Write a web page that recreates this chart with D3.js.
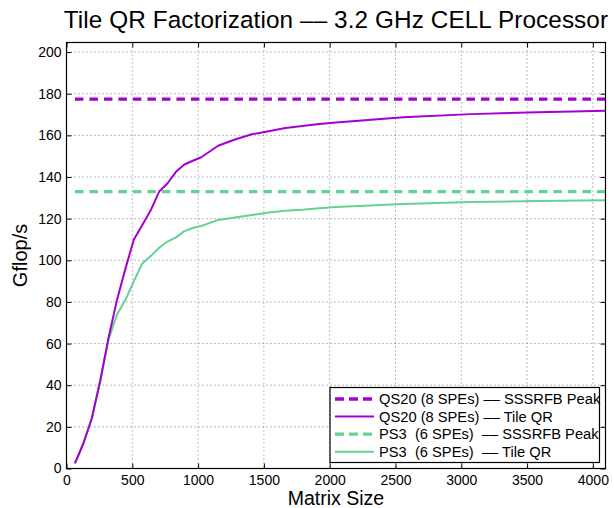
<!DOCTYPE html>
<html>
<head>
<meta charset="utf-8">
<script src="https://cdn.jsdelivr.net/npm/d3@7"></script>
<style>
  body { margin: 0; background: #fff; }
  svg { font-family: "Liberation Sans", Arial, sans-serif; }
</style>
</head>
<body>
<svg width="614" height="508"></svg>
<script>
(() => {
    // Matrix sizes (x) and measured Gflop/s
    const matrixSizes = [64, 128, 192, 256, 320, 384, 448, 512, 576, 640, 704, 768, 832, 896, 960, 1024,
                         1152, 1280, 1408, 1536, 1664, 1792, 1920, 2048, 2560, 3072, 3584, 4096];
    const qs20TileQR = [2.5, 12, 24, 42, 63, 81, 96, 110, 117, 124, 133, 137, 142.5, 146, 147.8, 149.5,
                        155, 158, 160.5, 162, 163.5, 164.5, 165.5, 166.2, 168.7, 170.2, 171.1, 171.8];
    const ps3TileQR = [2.5, 12, 24, 42, 62, 74, 81, 90, 98.5, 102, 106, 109, 111, 114, 115.5, 116.5,
                       119.4, 120.5, 121.7, 123, 123.8, 124.3, 125, 125.6, 127, 128, 128.5, 128.8];
    const qs20Peak = 177.4;
    const ps3Peak = 133;

    const xTicks = [0, 500, 1000, 1500, 2000, 2500, 3000, 3500, 4000];
    const yTicks = [0, 20, 40, 60, 80, 100, 120, 140, 160, 180, 200];

    const legendLabels = [
      "QS20 (8 SPEs) \u2013\u2013 SSSRFB Peak",
      "QS20 (8 SPEs) \u2013\u2013 Tile QR",
      "PS3  (6 SPEs)  \u2013\u2013 SSSRFB Peak",
      "PS3  (6 SPEs)  \u2013\u2013 Tile QR"
    ];

    const purple = "#a400cf";
    const green = "#62d390";

    const margin = {top: 42.5, right: 8.5, bottom: 39.5, left: 66.5};
    const svg = d3.select("svg");
    const width = +svg.attr("width") - margin.left - margin.right;
    const height = +svg.attr("height") - margin.top - margin.bottom;
    const g = svg.append("g").attr("transform", "translate(" + margin.left + "," + margin.top + ")");

    const x = d3.scaleLinear().domain([0, 4096]).range([0, width]);
    const y = d3.scaleLinear().domain([0, 204.6]).range([height, 0]);

    // grid
    g.append("g").selectAll("line")
      .data(xTicks.slice(1))
      .enter().append("line")
        .attr("x1", d => x(d)).attr("x2", d => x(d))
        .attr("y1", 0).attr("y2", height)
        .attr("stroke", "#555").attr("stroke-width", 0.8)
        .attr("stroke-dasharray", "1,3");
    g.append("g").selectAll("line")
      .data(yTicks.slice(1))
      .enter().append("line")
        .attr("y1", d => y(d)).attr("y2", d => y(d))
        .attr("x1", 0).attr("x2", width)
        .attr("stroke", "#555").attr("stroke-width", 0.8)
        .attr("stroke-dasharray", "1,3");

    // axes with inward ticks, labels outside
    const fmt = d3.format("d");
    const axisX = g.append("g")
        .attr("transform", "translate(0," + height + ")")
        .call(d3.axisBottom(x).tickValues(xTicks).tickFormat(fmt).tickSizeInner(-5).tickSizeOuter(0).tickPadding(7));
    const axisXTop = g.append("g")
        .call(d3.axisTop(x).tickValues(xTicks).tickSizeInner(-5).tickSizeOuter(0).tickFormat(""));
    const axisY = g.append("g")
        .call(d3.axisLeft(y).tickValues(yTicks).tickFormat(fmt).tickSizeInner(-5).tickSizeOuter(0).tickPadding(5));
    const axisYRight = g.append("g")
        .attr("transform", "translate(" + width + ",0)")
        .call(d3.axisRight(y).tickValues(yTicks).tickSizeInner(-5).tickSizeOuter(0).tickFormat(""));

    [axisX, axisXTop, axisY, axisYRight].forEach(a => {
      a.select(".domain").remove();
      a.selectAll("line").attr("stroke", "#000");
      a.selectAll("text").attr("font-size", 14).attr("fill", "#000")
        .attr("font-family", "Liberation Sans, Arial, sans-serif");
    });
    axisY.selectAll("text").attr("x", -5);
    axisX.selectAll("text").attr("y", 7);

    // peak lines
    const peakLine = (val, color) => {
      g.append("line")
        .attr("x1", x(64)).attr("x2", width)
        .attr("y1", y(val)).attr("y2", y(val))
        .attr("stroke", color).attr("stroke-width", 3.3)
        .attr("stroke-dasharray", "8.5,6");
    };
    peakLine(qs20Peak, purple);
    peakLine(ps3Peak, green);

    // curves
    const line = d3.line().x(d => x(d[0])).y(d => y(d[1]));
    g.append("path")
      .datum(d3.zip(matrixSizes, ps3TileQR))
      .attr("fill", "none").attr("stroke", green).attr("stroke-width", 2)
      .attr("stroke-linejoin", "round")
      .attr("d", line);
    g.append("path")
      .datum(d3.zip(matrixSizes, qs20TileQR))
      .attr("fill", "none").attr("stroke", purple).attr("stroke-width", 2)
      .attr("stroke-linejoin", "round")
      .attr("d", line);

    // box
    g.append("rect")
      .attr("width", width).attr("height", height)
      .attr("fill", "none").attr("stroke", "#000").attr("stroke-width", 1.2);

    // title and axis labels
    svg.append("text")
      .attr("x", margin.left + width / 2).attr("y", 28)
      .attr("text-anchor", "middle").attr("font-size", 24.3)
      .attr("letter-spacing", 0.1)
      .text("Tile QR Factorization \u2013\u2013 3.2 GHz CELL Processor");
    svg.append("text")
      .attr("x", margin.left + width / 2).attr("y", 505)
      .attr("text-anchor", "middle").attr("font-size", 19.5)
      .text("Matrix Size");
    svg.append("text")
      .attr("transform", "translate(27," + (margin.top + height / 2) + ") rotate(-90)")
      .attr("text-anchor", "middle").attr("font-size", 20)
      .text("Gflop/s");

    // legend
    const legend = svg.append("g").attr("transform", "translate(330,387.5)");
    legend.append("rect")
      .attr("width", 269.5).attr("height", 75)
      .attr("fill", "#fff").attr("stroke", "#000").attr("stroke-width", 1.2);
    const styles = [
      {color: purple, dash: "9,5", w: 3.3},
      {color: purple, dash: null, w: 2},
      {color: green, dash: "9,5", w: 3.3},
      {color: green, dash: null, w: 2}
    ];
    const items = legend.selectAll(".item")
      .data(legendLabels)
      .enter().append("g")
        .attr("class", "item")
        .attr("transform", (d, i) => "translate(0," + (11.5 + i * 17.6) + ")");
    items.append("line")
      .attr("x1", 5).attr("x2", 44)
      .attr("stroke", (d, i) => styles[i].color)
      .attr("stroke-width", (d, i) => styles[i].w)
      .attr("stroke-dasharray", (d, i) => styles[i].dash);
    items.append("text")
      .attr("x", 49).attr("dy", "0.36em")
      .attr("font-size", 14.7)
      .style("white-space", "pre")
      .text(d => d);
})();
</script>
</body>
</html>
